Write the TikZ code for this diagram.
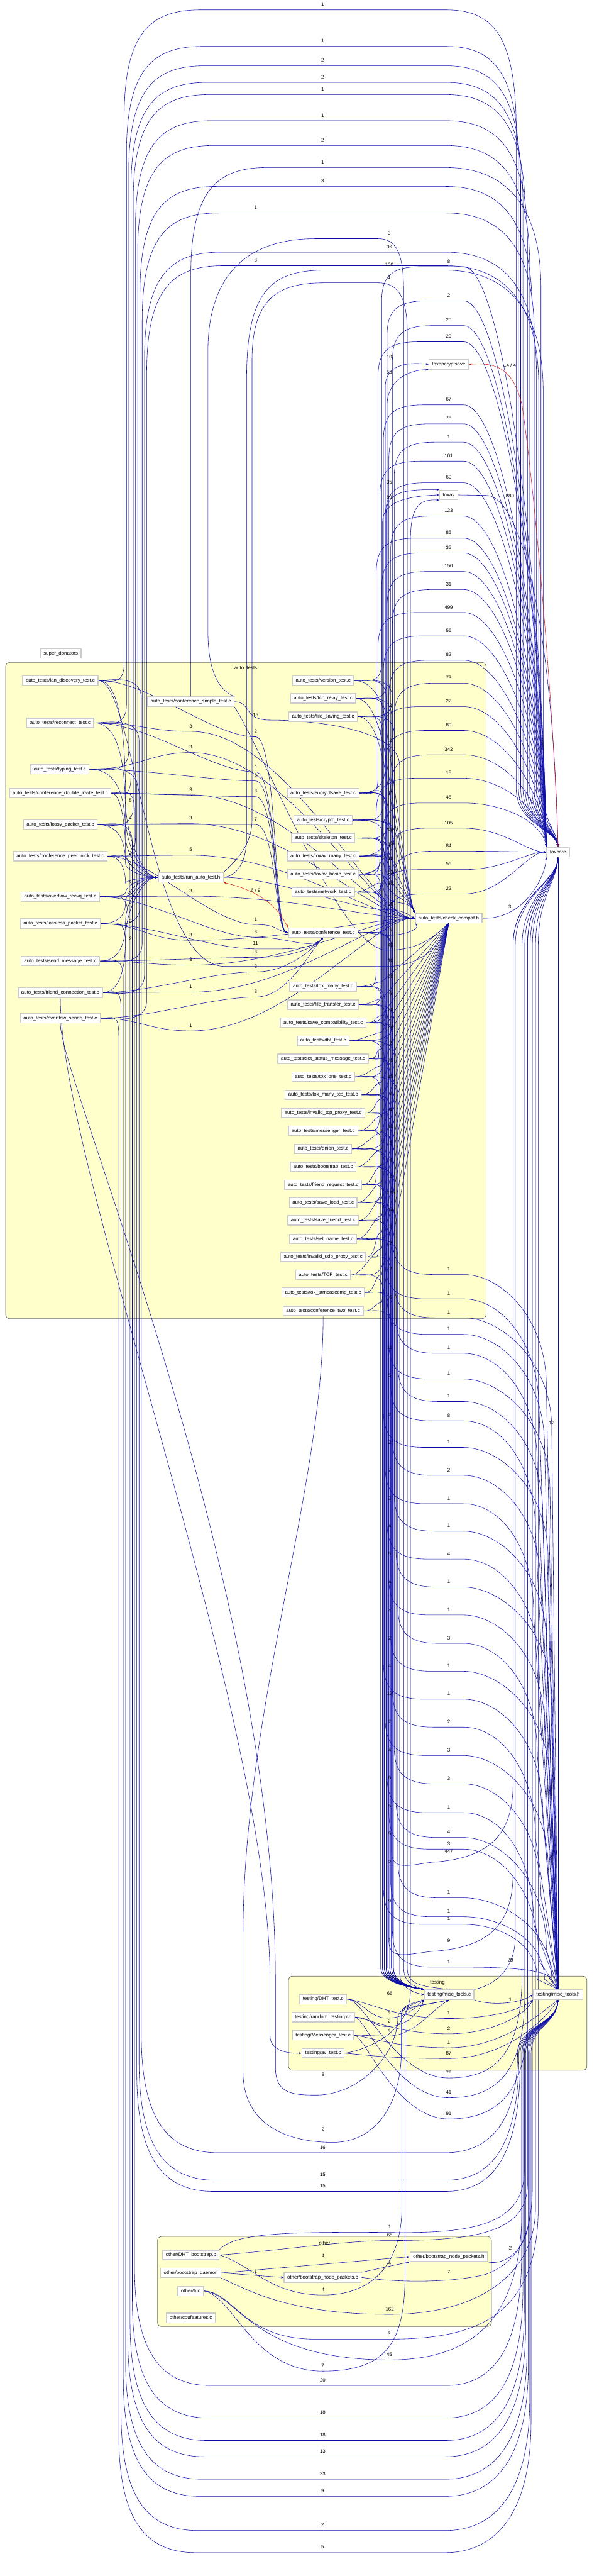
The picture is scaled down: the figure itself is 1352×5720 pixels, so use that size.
\documentclass[tikz,border=0pt]{standalone}
\usepackage{fontspec}
\setmainfont{Liberation Sans}
\usetikzlibrary{arrows.meta}
\definecolor{eb}{RGB}{12,12,168}
\definecolor{clf}{RGB}{255,255,204}
\definecolor{rd}{RGB}{215,25,25}
\newcommand{\fsz}{\fontsize{11}{13}\selectfont}
\pgfdeclarelayer{clayer}
\pgfdeclarelayer{elayer}
\pgfsetlayers{clayer,elayer,main}
\begin{document}
\begin{tikzpicture}[x=1pt,y=-1pt,
  nd/.style={draw=black!20, line width=2pt, fill=white, font=\fsz, inner xsep=7pt, inner ysep=2pt, minimum height=21pt},
  e/.style={draw=eb, line width=0.8pt, -{Stealth[length=6pt,width=4.5pt]}},
  re/.style={draw=rd, line width=0.8pt, {Stealth[length=6pt,width=4.5pt]}-{Stealth[length=6pt,width=4.5pt]}},
  lb/.style={font=\fsz, inner sep=0.5pt, text=black},
  cl/.style={draw=black!60, line width=1pt, fill=clf, rounded corners=9pt}]
\useasboundingbox (0,0) rectangle (1352,5720);

% ---------------- clusters
\begin{pgfonlayer}{clayer}
\fill[white] (0,0) rectangle (1352,5720);
\draw[cl] (12.5,1471) rectangle (1080,2928);
\draw[cl] (641,4388) rectangle (1304,4597);
\draw[cl] (350,4966) rectangle (1092,5166);
\end{pgfonlayer}
\node[lb] (cla) at (546,1484) {auto\_tests};
\node[lb] (clt) at (972,4402) {testing};
\node[lb] (clo) at (721,4981) {other};

% ---------------- nodes
\node[nd] (sd) at (135,1451) {super\_donators};
\node[nd] (lan) at (134,1511) {auto\_tests/lan\_discovery\_test.c};
\node[nd] (rec) at (134,1605) {auto\_tests/reconnect\_test.c};
\node[nd] (typ) at (133,1708) {auto\_tests/typing\_test.c};
\node[nd] (cdi) at (134,1761) {auto\_tests/conference\_double\_invite\_test.c};
\node[nd] (lossy) at (134,1831) {auto\_tests/lossy\_packet\_test.c};
\node[nd] (cpn) at (134,1901) {auto\_tests/conference\_peer\_nick\_test.c};
\node[nd] (ofr) at (134,1991) {auto\_tests/overflow\_recvq\_test.c};
\node[nd] (lossless) at (134,2051) {auto\_tests/lossless\_packet\_test.c};
\node[nd] (sendmsg) at (134,2134) {auto\_tests/send\_message\_test.c};
\node[nd] (fc) at (134,2204) {auto\_tests/friend\_connection\_test.c};
\node[nd] (ofs) at (134,2261) {auto\_tests/overflow\_sendq\_test.c};
\node[nd] (cs) at (424,1558) {auto\_tests/conference\_simple\_test.c};
\node[nd] (run) at (424,1948) {auto\_tests/run\_auto\_test.h};
\foreach \i/\y/\t in {1/1511/version\_test.c, 2/1551/tcp\_relay\_test.c, 3/1591/file\_saving\_test.c,
  4/1761/encryptsave\_test.c, 5/1821/crypto\_test.c, 6/1861/skeleton\_test.c, 7/1901/toxav\_many\_test.c,
  8/1941/toxav\_basic\_test.c, 9/1981/network\_test.c, 10/2071/conference\_test.c, 11/2191/tox\_many\_test.c,
  12/2231/file\_transfer\_test.c, 13/2271/save\_compatibility\_test.c, 14/2311/dht\_test.c,
  15/2351/set\_status\_message\_test.c, 16/2391/tox\_one\_test.c, 17/2431/tox\_many\_tcp\_test.c,
  18/2471/invalid\_tcp\_proxy\_test.c, 19/2511/messenger\_test.c, 20/2551/onion\_test.c,
  21/2591/bootstrap\_test.c, 22/2631/friend\_request\_test.c, 23/2670/save\_load\_test.c,
  24/2710/save\_friend\_test.c, 25/2751/set\_name\_test.c, 26/2791/invalid\_udp\_proxy\_test.c,
  27/2831/TCP\_test.c, 28/2870/tox\_strncasecmp\_test.c, 29/2911/conference\_two\_test.c}
  {\node[nd] (r\i) at (718,\y) {auto\_tests/\t};}
\node[nd] (tes) at (997,809) {toxencryptsave};
\node[nd] (tav) at (997,1099) {toxav};
\node[nd] (cc) at (997,2039) {auto\_tests/check\_compat.h};
\node[nd] (tc) at (1240,1892) {toxcore};
\node[nd] (mtc) at (998,4429) {testing/misc\_tools.c};
\node[nd] (mth) at (1240,4429) {testing/misc\_tools.h};
\node[nd] (dht) at (718,4439) {testing/DHT\_test.c};
\node[nd] (rnd) at (718,4479) {testing/random\_testing.cc};
\node[nd] (msg) at (718,4519) {testing/Messenger\_test.c};
\node[nd] (av) at (718,4559) {testing/av\_test.c};
\node[nd] (dhtb) at (424,5007) {other/DHT\_bootstrap.c};
\node[nd] (bd) at (424,5047) {other/bootstrap\_daemon};
\node[nd] (fun) at (424,5087) {other/fun};
\node[nd] (cpu) at (424,5147) {other/cpufeatures.c};
\node[nd] (bnpc) at (717,5057) {other/bootstrap\_node\_packets.c};
\node[nd] (bnph) at (997,5011) {other/bootstrap\_node\_packets.h};

% ---------------- edges
\begin{pgfonlayer}{elayer}
% top loops: left files -> toxcore
\foreach \sn/\ys/\lab/\lx/\ly/\k in {lan/1511/1/717/10/0, rec/1605/1/717/91/1, typ/1708/2/717/134/2, cdi/1761/2/717/171/3, lossy/1831/1/717/198/4, cpn/1901/1/717/256/5, ofr/1991/2/717/311/6, lossless/2051/3/717/402/7, sendmsg/2134/1/568/461/8, fc/2204/36/865/548/9, ofs/2261/3/568/578/10}{
  \pgfmathsetmacro\xl{276+\k*5}
  \pgfmathsetmacro\xr{1147+\k*5}
  \draw[e] (\sn.east) .. controls +(25,0) and (\xl,\ys+15) .. (\xl,\ys-40) -- (\xl,\ly+250) .. controls (\xl,\ly+60) and (\xl+60,\ly+12) .. (\xl+170,\ly+12) -- (990,\ly+12) .. controls (1090,\ly+12) and (\xr,\ly+60) .. (\xr,\ly+280) -- (\xr,1750) .. controls (\xr,1830) and (1232,1840) .. (tc.north) node[lb] at (\lx,\ly) {\lab};
}
\draw[e] (cs.north) -- (424,610) .. controls (424,420) and (484,372) .. (594,372) -- (990,372) .. controls (1090,372) and (1202,420) .. (1202,640) -- (1202,1750) .. controls (1202,1830) and (1236,1840) .. (tc.north) node[lb] at (717,360) {1};
\draw[e] (run.east) .. controls (530,1944) and (548,1910) .. (548,1860) -- (548,840) .. controls (548,650) and (600,600) .. (720,600) -- (990,600) .. controls (1090,600) and (1207,650) .. (1207,870) -- (1207,1750) .. controls (1207,1830) and (1236,1840) .. (tc.north) node[lb] at (865,588) {100};
\draw[e] (cs.north east) .. controls (480,1530) and (462,1480) .. (462,1400) -- (462,780) .. controls (462,600) and (560,530) .. (700,530) -- (840,530) .. controls (880,530) and (897,560) .. (897,650) -- (897,4370) .. controls (897,4405) and (925,4412) .. (mtc.north west) node[lb] at (865,518) {3};
\draw[e] (run.north east) .. controls (520,1915) and (560,1880) .. (560,1820) -- (560,800) .. controls (560,660) and (620,628) .. (720,628) -- (840,628) .. controls (885,628) and (905,660) .. (905,740) -- (905,4370) .. controls (905,4405) and (930,4410) .. (mtc.north) node[lb] at (865,616) {1};
\draw[e] (cs.east) .. controls (560,1560) and (540,1599) .. (600,1599) .. controls (700,1599) and (888,1620) .. (888,1700) -- (888,4380) .. controls (888,4415) and (920,4425) .. (mtc.west) node[lb] at (568,1587) {15};

% bottom loops: left files -> misc_tools.h
\foreach \sn/\ys/\lab/\ly/\k in {lan/1511/16/4768/0, rec/1605/15/4829/1, typ/1708/15/4854/2, cdi/1761/20/5285/3, lossy/1831/18/5357/4, cpn/1901/18/5407/5, ofr/1991/13/5443/6, lossless/2051/33/5493/7, sendmsg/2134/9/5531/8, fc/2204/2/5607/9, ofs/2261/5/5656/10}{
  \pgfmathsetmacro\xl{314-\k*5}
  \pgfmathsetmacro\xr{1150+\k*3}
  \pgfmathsetmacro\ye{max(\ly-280,4560)}
  \draw[e] (\sn.east) .. controls +(25,0) and (\xl,\ys-15) .. (\xl,\ys+40) -- (\xl,\ly-250) .. controls (\xl,\ly-60) and (\xl+60,\ly+12) .. (\xl+170,\ly+12) -- (990,\ly+12) .. controls (1090,\ly+12) and (\xr,\ly-60) .. (\xr,\ye) -- (\xr,4560) .. controls (\xr,4500) and (1236,4495) .. (mth.south) node[lb] at (717,\ly) {\lab};
}

% left files -> run_auto_test.h
\foreach \sn/\ys/\lab/\ly in {lan/1511/5/1777, rec/1605/4/1816, typ/1708/4/1856, cdi/1761/3/1895, lossy/1831/4/1918, cpn/1901/3/1961, ofr/1991/3/1982, lossless/2051/3/2004, sendmsg/2134/2/2046, fc/2204/2/2084}{
  \draw[e] (\sn.east) .. controls (268,\ys) and (279,{(\ys+\ly)/2}) .. (279,\ly) .. controls (279,{(\ly+1948)/2}) and (320,1948) .. (run.west) node[lb] at (290,\ly) {\lab};
}
% left files -> check_compat.h
\foreach \sn/\ys/\lab/\ly in {rec/1605/3/1612, typ/1708/3/1659, cdi/1761/3/1753, lossy/1831/3/1817, cpn/1901/5/1887, ofr/1991/3/1978, lossless/2051/3/2076, sendmsg/2134/3/2131, fc/2204/1/2191, ofs/2261/1/2277}{
  \draw[e] (\sn.east) .. controls (310,\ys) and (330,\ly+12) .. (424,\ly+12) .. controls (640,\ly+12) and (830,2039) .. (cc.west) node[lb] at (424,\ly) {\lab};
}
% left files -> conference_test.c
\foreach \sn/\ys/\lab/\ly in {lan/1511/2/1624, rec/1605/4/1702, typ/1708/3/1722, cdi/1761/3/1757, lossy/1831/7/1819, cpn/1901/1/2041}{
  \draw[e] (\sn.east) .. controls (330,\ys) and (470,\ly+12) .. (568,\ly+12) .. controls (615,\ly+12) and (610,2064) .. (r10.west) node[lb] at (568,\ly) {\lab};
}
\foreach \sn/\ys/\lab/\ly in {ofr/1991/3/2069, lossless/2051/11/2095, sendmsg/2134/8/2114, fc/2204/3/2146, ofs/2261/3/2202}{
  \draw[e] (\sn.east) .. controls (330,\ys) and (470,\ly+12) .. (568,\ly+12) .. controls (640,\ly+12) and (690,2110) .. (r10.south) node[lb] at (568,\ly) {\lab};
}
\draw[re] (run.south east) .. controls (560,1975) and (610,2000) .. (r10.north west) node[lb] at (568,1977) {6 / 9};

% auto_tests -> toxcore
\foreach \i/\y/\lab/\ly in {1/1511/8/580, 2/1551/2/656, 3/1591/20/711, 4/1761/29/747, 5/1821/67/887, 6/1861/78/929, 7/1901/1/970, 8/1941/101/1012, 9/1981/69/1060, 10/2071/123/1134, 11/2191/85/1183, 12/2231/35/1216, 13/2271/150/1257, 14/2311/31/1297, 15/2351/499/1348, 16/2391/56/1400, 17/2431/82/1454, 18/2471/73/1505, 19/2511/22/1557, 20/2551/80/1610, 21/2591/342/1664, 22/2631/15/1716, 23/2670/45/1771}{
  \pgfmathsetmacro\xb{836+mod(\i*3,11)*4}
  \pgfmathsetmacro\yc{\ly+0.55*(1870-\ly)}
  \draw[e] (r\i.east) .. controls +(30,0) and (\xb,\y+10) .. (\xb,\y-40) -- (\xb,\ly+90) .. controls (\xb,\ly+30) and (\xb+25,\ly+12) .. (\xb+90,\ly+12) -- (1030,\ly+12) .. controls (1120,\ly+12) and (1205,\yc) .. (tc.north west) node[lb] at (997,\ly) {\lab};
}
\foreach \i/\y/\lab/\ly in {24/2710/105/1827, 25/2751/84/1878, 26/2791/56/1919, 27/2831/22/1973}{
  \pgfmathsetmacro\xb{836+mod(\i*3,11)*4}
  \draw[e] (r\i.east) .. controls +(30,0) and (\xb,\y+10) .. (\xb,\y-40) -- (\xb,\ly+90) .. controls (\xb,\ly+30) and (\xb+25,\ly+12) .. (\xb+90,\ly+12) -- (1030,\ly+12) .. controls (1120,\ly+12) and (1170,1892) .. (tc.west) node[lb] at (997,\ly) {\lab};
}
\foreach \i/\y/\lab/\ly in {28/2870/9/4309, 29/2911/447/4111}{
  \pgfmathsetmacro\xb{858+mod(\i,3)*6}
  \draw[e] (r\i.east) .. controls +(30,0) and (\xb,\y-10) .. (\xb,\y+40) -- (\xb,\ly) .. controls (\xb,\ly+45) and (\xb+40,\ly+30) .. (960,\ly+24) .. controls (1080,\ly+16) and (1140,\ly-30) .. (1140,\ly-150) -- (1140,2100) .. controls (1140,1990) and (1236,1960) .. (tc.south) node[lb] at (997,\ly) {\lab};
}
% auto_tests -> misc_tools.h
\foreach \i/\y/\lab/\ly in {1/1511/1/2818, 2/1551/1/2872, 3/1591/1/2914, 4/1761/1/2951, 5/1821/1/2993, 6/1861/1/3050, 7/1901/1/3100, 8/1941/8/3143, 9/1981/1/3202, 10/2071/2/3264, 11/2191/1/3327, 12/2231/1/3388, 13/2271/4/3450, 14/2311/1/3512, 15/2351/1/3574, 16/2391/3/3637, 17/2431/1/3699, 18/2471/1/3761, 19/2511/2/3823, 20/2551/3/3886, 21/2591/3/3949, 22/2631/1/4013, 23/2670/4/4068, 24/2710/3/4094, 25/2751/1/4202, 26/2791/1/4244, 27/2831/1/4261, 28/2870/1/4356}{
  \pgfmathsetmacro\xb{852+mod(\i*5,9)*4}
  \pgfmathsetmacro\xr{1186+mod(\i*7,11)*4}
  \pgfmathsetmacro\ye{min(\ly+260,4395)}
  \pgfmathsetmacro\yc{\ly+0.4*(\ye-\ly)}
  \draw[e] (r\i.east) .. controls +(30,0) and (\xb,\y-10) .. (\xb,\y+40) -- (\xb,\ly-70) .. controls (\xb,\ly-10) and (\xb+25,\ly+12) .. (\xb+90,\ly+12) -- (1030,\ly+12) .. controls (1110,\ly+12) and (\xr,\yc) .. (\xr,\ye) -- (mth.north) node[lb] at (997,\ly) {\lab};
}
% auto_tests -> misc_tools.c
\foreach \i/\y/\lab/\ly in {1/1511/11/2992, 2/1551/5/3054, 3/1591/2/3142, 4/1761/2/3203, 5/1821/7/3265, 6/1861/2/3327, 7/1901/4/3389, 8/1941/5/3451, 9/1981/4/3513, 10/2071/4/3576, 11/2191/2/3637, 12/2231/4/3699, 13/2271/12/3761, 14/2311/2/3823, 15/2351/4/3886, 16/2391/6/3948, 17/2431/5/4010, 18/2471/5/4072, 19/2511/2/4134, 20/2551/9/4221, 21/2591/1/4308, 22/2631/1/4395, 23/2670/66/4427}{
  \pgfmathsetmacro\xb{846+mod(\i*3,8)*4}
  \draw[e] (r\i.east) .. controls +(30,0) and (\xb,\y-10) .. (\xb,\y+40) -- (\xb,4370) .. controls (\xb,4405) and (925,4415) .. (mtc.north west) node[lb] at (866,\ly) {\lab};
}
% auto_tests -> check_compat.h
\foreach \i/\y/\lab/\ly in {1/1511/2/1567, 2/1551/2/1644, 3/1591/7/1681, 4/1761/37/1762, 5/1821/63/1842, 6/1861/14/1875, 7/1901/19/1906, 8/1941/53/1936, 9/1981/38/1962}{
  \draw[e] (r\i.east) .. controls +(35,0) and (845,\ly-20) .. (852,\ly+10) .. controls (862,\ly+60) and (905,1990) .. (cc.north west) node[lb] at (868,\ly) {\lab};
}
\foreach \i/\y/\lab/\ly in {11/2191/55/2168, 12/2231/6/2206, 13/2271/20/2243, 14/2311/24/2280, 15/2351/2/2317, 16/2391/75/2354, 17/2431/15/2391, 18/2471/2/2428, 19/2511/4/2465, 20/2551/14/2502, 21/2591/3/2539, 22/2631/6/2576, 23/2670/2/2613, 24/2710/125/2649, 25/2751/14/2687, 26/2791/3/2724, 27/2831/2/2760, 28/2870/2/2818, 29/2911/5/2880}{
  \draw[e] (r\i.east) .. controls +(25,0) and (830,\ly+14) .. (848,\ly+12) -- (cc.south) node[lb] at (868,\ly) {\lab};
}
\draw[e] (run.east) .. controls (620,1950) and (780,2020) .. (860,2020) .. controls (895,2020) and (905,2030) .. (cc.west) node[lb] at (868,2008) {20};
\draw[e] (r10.east) .. controls (830,2071) and (840,2077) .. (860,2077) .. controls (905,2077) and (935,2060) .. (cc.south west) node[lb] at (868,2065) {5};
\draw[e] (cs.south east) .. controls (600,1700) and (760,2110) .. (860,2110) .. controls (930,2110) and (965,2080) .. (cc.south) node[lb] at (868,2098) {48};
\draw[e] (lan.east) .. controls (300,1515) and (330,2146) .. (500,2146) -- (860,2146) .. controls (940,2146) and (985,2090) .. (cc.south) node[lb] at (868,2134) {10};

% toxencryptsave / toxav
\draw[e] (r4.east) .. controls +(30,0) and (856,1750) .. (856,1700) -- (856,860) .. controls (856,812) and (900,803) .. (tes.west) node[lb] at (865,793) {10};
\draw[e] (r13.east) .. controls +(30,0) and (860,2260) .. (860,2220) -- (860,900) .. controls (860,850) and (900,822) .. (tes.south west) node[lb] at (865,827) {56};
\draw[e] (r7.east) .. controls +(30,0) and (858,1890) .. (858,1850) -- (858,1140) .. controls (858,1092) and (900,1086) .. (tav.north west) node[lb] at (865,1071) {35};
\draw[e] (r8.east) .. controls +(30,0) and (850,1930) .. (850,1890) -- (850,1160) .. controls (850,1120) and (890,1102) .. (tav.west) node[lb] at (865,1105) {89};
\draw[e] (av.east) .. controls (800,4555) and (912,4520) .. (912,4420) -- (912,1200) .. controls (912,1120) and (935,1108) .. (tav.south west);
\draw[e] (tav.east) -- (1080,1100) .. controls (1160,1100) and (1228,1400) .. (tc.north) node[lb] at (1133,1102) {880};
\draw[re] (tes.east) .. controls (1100,805) and (1140,815) .. (1160,900) .. controls (1190,1100) and (1232,1600) .. (tc.north) node[lb] at (1133,811) {14 / 4};
\draw[e] (cc.east) .. controls (1110,2040) and (1150,2025) .. (1180,1985) .. controls (1200,1960) and (1212,1930) .. (tc.south west) node[lb] at (1133,2013) {3};

% testing
\draw[e] (dht.east) .. controls (800,4439) and (820,4481) .. (860,4481) .. controls (905,4481) and (925,4455) .. (mtc.south west) node[lb] at (865,4469) {4};
\draw[e] (rnd.east) .. controls (820,4479) and (830,4500) .. (860,4500) .. controls (910,4500) and (935,4460) .. (mtc.south west) node[lb] at (865,4488) {2};
\draw[e] (msg.east) .. controls (815,4519) and (830,4521) .. (860,4521) .. controls (920,4521) and (950,4470) .. (mtc.south) node[lb] at (865,4509) {4};
\draw[e] (dht.east) .. controls (820,4445) and (880,4482) .. (997,4482) .. controls (1100,4482) and (1160,4460) .. (mth.south west) node[lb] at (997,4470) {1};
\draw[e] (rnd.east) .. controls (830,4485) and (880,4516) .. (997,4516) .. controls (1100,4516) and (1170,4470) .. (mth.south west) node[lb] at (997,4504) {2};
\draw[e] (msg.east) .. controls (830,4525) and (880,4547) .. (997,4547) .. controls (1110,4547) and (1190,4480) .. (mth.south) node[lb] at (997,4535) {1};
\draw[e] (av.east) .. controls (830,4565) and (880,4571) .. (997,4571) .. controls (1110,4571) and (1200,4500) .. (mth.south) node[lb] at (997,4559) {87};
\foreach \sn/\ys/\lab/\ly/\xr in {dht/4439/76/4602/1160, rnd/4479/41/4646/1166, msg/4519/91/4693/1172}{
  \draw[e] (\sn.east) .. controls (810,\ys) and (880,\ly+12) .. (997,\ly+12) .. controls (1100,\ly+12) and (\xr,\ly-40) .. (\xr,\ly-220) -- (\xr,2100) .. controls (\xr,1990) and (1236,1960) .. (tc.south) node[lb] at (997,\ly) {\lab};
}
\draw[e] (mtc.south east) .. controls (1080,4452) and (1150,4452) .. (mth.west) node[lb] at (1134,4440) {1};
\draw[e] (mtc.north east) .. controls (1090,4410) and (1145,4380) .. (1145,4300) -- (1145,2100) .. controls (1145,1990) and (1236,1960) .. (tc.south) node[lb] at (1134,4353) {29};
\draw[e] (mth.north) -- (tc.south) node[lb] at (1226,3160) {12};
\draw[e] (ofs.south) .. controls (134,2400) and (612,3500) .. (612,4400) -- (612,4590) .. controls (612,4650) and (650,4652) .. (703,4652) .. controls (800,4652) and (884,4560) .. (884,4480) .. controls (884,4460) and (920,4450) .. (mtc.south west) node[lb] at (718,4606) {8};
\draw[e] (r29.south) .. controls (719,3300) and (540,3800) .. (540,4300) -- (540,4600) .. controls (540,4720) and (640,4757) .. (740,4757) .. controls (830,4757) and (892,4680) .. (892,4550) -- (892,4470) .. controls (892,4455) and (960,4450) .. (mtc.south) node[lb] at (718,4728) {2};
\draw[e] (fc.south) .. controls (134,2600) and (600,3800) .. (600,4400) -- (600,4520) .. controls (600,4550) and (630,4560) .. (av.west);

% other
\draw[e] (bd.east) -- (bnph.west) node[lb] at (718,5009) {4};
\draw[e] (bd.east) -- (bnpc.west) node[lb] at (568,5044) {1};
\draw[e] (bnpc.north east) -- (bnph.south west) node[lb] at (866,5025) {4};
\draw[e] (bnpc.east) .. controls (880,5068) and (1000,5070) .. (1080,5050) .. controls (1160,5020) and (1183,4950) .. (1183,4850) -- (1183,2100) .. controls (1183,1990) and (1236,1960) .. (tc.south) node[lb] at (997,5045) {7};
\draw[e] (bnph.south east) .. controls (1110,5030) and (1178,5010) .. (1178,4900) -- (1178,2100) .. controls (1178,1990) and (1236,1960) .. (tc.south) node[lb] at (1134,4992) {2};
\draw[e] (dhtb.east) .. controls (600,5000) and (760,4975) .. (866,4975) .. controls (1050,4975) and (1172,4960) .. (1172,4850) -- (1172,2100) .. controls (1172,1990) and (1236,1960) .. (tc.south) node[lb] at (866,4963) {65};
\draw[e] (dhtb.north east) .. controls (520,4960) and (620,4955) .. (866,4957) .. controls (1050,4960) and (1165,4940) .. (1165,4820) -- (1165,4560) .. controls (1165,4500) and (1236,4495) .. (mth.south) node[lb] at (866,4945) {1};
\draw[e] (dhtb.east) .. controls (560,5030) and (600,5096) .. (718,5096) .. controls (850,5096) and (893,5000) .. (893,4900) -- (893,4470) .. controls (893,4450) and (930,4445) .. (mtc.south west) node[lb] at (718,5084) {4};
\draw[e] (bd.south east) .. controls (560,5090) and (650,5139) .. (866,5139) .. controls (1050,5139) and (1190,5060) .. (1190,4900) -- (1190,2100) .. controls (1190,1990) and (1236,1960) .. (tc.south) node[lb] at (866,5127) {162};
\draw[e] (fun.east) .. controls (520,5090) and (540,5194) .. (700,5194) -- (865,5194) .. controls (1050,5194) and (1196,5150) .. (1196,4900) -- (1196,2100) .. controls (1196,1990) and (1236,1960) .. (tc.south) node[lb] at (865,5182) {3};
\draw[e] (fun.east) .. controls (530,5095) and (560,5240) .. (865,5240) .. controls (1050,5240) and (1160,5150) .. (1160,4900) -- (1160,4560) .. controls (1160,4500) and (1236,4495) .. (mth.south) node[lb] at (865,5228) {45};
\draw[e] (fun.east) .. controls (520,5100) and (560,5265) .. (717,5265) .. controls (860,5265) and (900,5200) .. (900,5050) -- (900,4470) .. controls (900,4455) and (960,4450) .. (mtc.south) node[lb] at (717,5253) {7};
\end{pgfonlayer}
\end{tikzpicture}
\end{document}
